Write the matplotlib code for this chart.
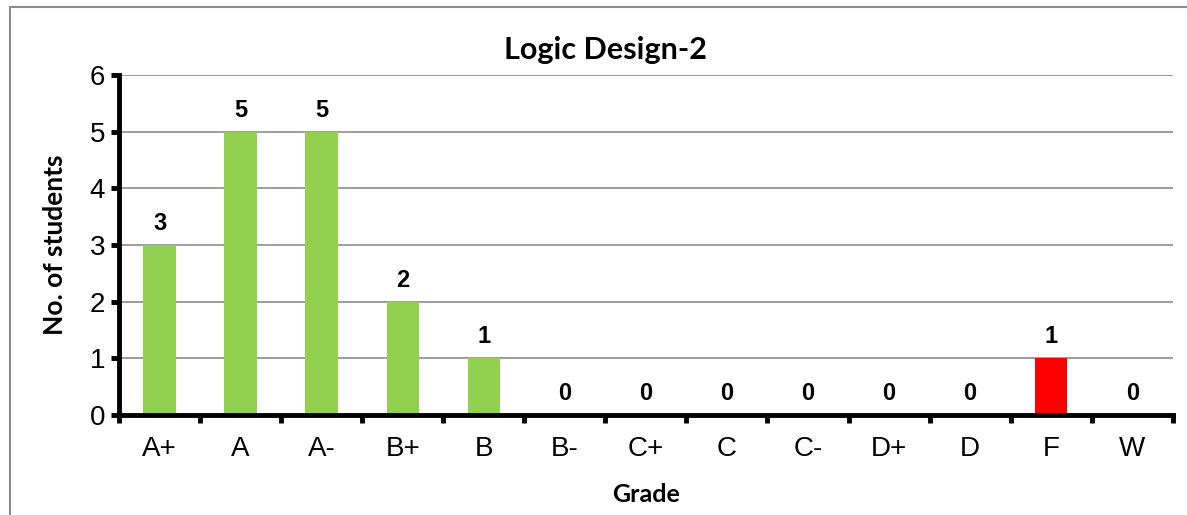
import matplotlib.pyplot as plt
from matplotlib.patches import Rectangle
import numpy as np

grades = ["A+", "A", "A-", "B+", "B", "B-", "C+", "C", "C-", "D+", "D", "F", "W"]
students = [3, 5, 5, 2, 1, 0, 0, 0, 0, 0, 0, 1, 0]
colors = ["#92D050"] * 11 + ["#FF0000", "#92D050"]

fig = plt.figure(figsize=(11.87, 5.15), dpi=100)
ax = fig.add_axes([0.1003, 0.1942, 0.8877, 0.6602])

# chart area border (Excel style)
fig.patches.append(Rectangle((10 / 1187, -0.1), 1.2, 1 - 7 / 515 + 0.1,
                             transform=fig.transFigure, fill=False,
                             edgecolor="#8c8c8c", linewidth=1.5))

x = np.arange(len(grades))
ax.bar(x, students, width=0.4, color=colors, zorder=3)

for xi, v in zip(x, students):
    ax.text(xi, v + 0.38, str(v), ha="center", va="center",
            fontsize=17, fontweight="bold", family="Liberation Sans")

ax.set_xlim(-0.5, len(grades) - 0.5)
ax.set_ylim(0, 6)
ax.set_yticks(range(7))
ax.yaxis.grid(True, color="#8c8c8c", linewidth=1.2, zorder=0)

ax.set_xticks(x)
ax.set_xticklabels(grades, family="Liberation Sans", fontsize=20)
ax.tick_params(axis="x", which="major", length=0, pad=15)
ax.set_xticks(np.arange(-0.5, len(grades)), minor=True)
ax.tick_params(axis="x", which="minor", length=6, width=3.5, direction="out")
ax.tick_params(axis="y", length=6, width=3.5, labelsize=20, pad=4)
for lab in ax.get_yticklabels():
    lab.set_family("Liberation Sans")

for s in ["top", "right"]:
    ax.spines[s].set_visible(False)
for s in ["left", "bottom"]:
    ax.spines[s].set_linewidth(3.5)
    ax.spines[s].set_zorder(4)

fig.text(605 / 1187, 1 - 50 / 515, "Logic Design-2", ha="center", va="center",
         fontsize=22, fontweight="bold", family="Lato")
ax.set_ylabel("No. of students", fontsize=19, fontweight="bold", family="Lato", labelpad=16)
ax.set_xlabel("Grade", fontsize=18, fontweight="bold", family="Lato", labelpad=15)

fig.savefig("out.png", dpi=100)
